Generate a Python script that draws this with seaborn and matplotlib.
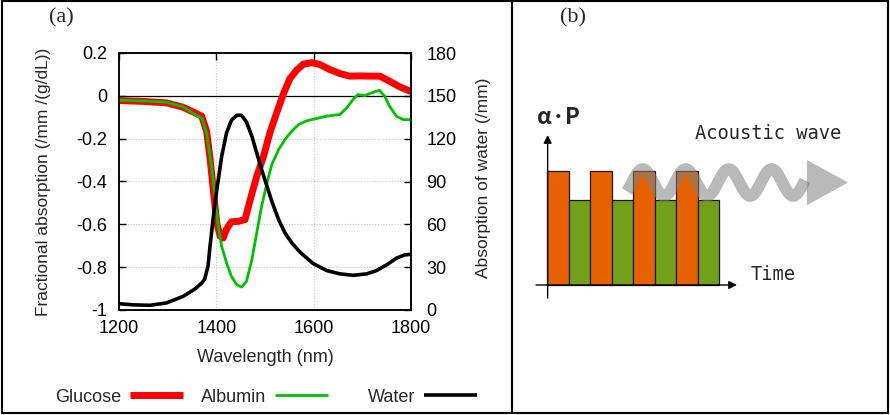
import numpy as np
import pandas as pd
import matplotlib
matplotlib.use("Agg")
import matplotlib.pyplot as plt
from matplotlib.lines import Line2D
from matplotlib.patches import Polygon
import seaborn as sns

# ---------------- data (panel a) ----------------
glucose_nm = [1200, 1250, 1298, 1330, 1356, 1370, 1380, 1387, 1394, 1401, 1408, 1414,
              1421, 1431, 1445, 1459, 1469, 1483, 1497, 1510, 1524, 1538, 1551, 1565,
              1579, 1596, 1613, 1633, 1654, 1674, 1695, 1715, 1736, 1756, 1777, 1800]
glucose_val = [-0.022, -0.026, -0.033, -0.052, -0.079, -0.095, -0.165, -0.29, -0.445,
               -0.595, -0.656, -0.664, -0.622, -0.588, -0.586, -0.578, -0.49, -0.376,
               -0.282, -0.173, -0.079, 0.01, 0.08, 0.12, 0.148, 0.155, 0.146, 0.123,
               0.104, 0.092, 0.093, 0.092, 0.092, 0.068, 0.042, 0.02]

albumin_nm = [1200, 1250, 1298, 1330, 1356, 1370, 1380, 1390, 1397, 1404, 1411, 1421,
              1431, 1442, 1452, 1462, 1473, 1483, 1493, 1504, 1514, 1528, 1541, 1555,
              1569, 1585, 1606, 1627, 1654, 1668, 1681, 1691, 1705, 1719, 1735, 1746,
              1756, 1770, 1784, 1800]
albumin_val = [-0.02, -0.024, -0.03, -0.05, -0.087, -0.103, -0.173, -0.329, -0.469,
               -0.609, -0.703, -0.78, -0.843, -0.882, -0.893, -0.866, -0.765, -0.64,
               -0.516, -0.407, -0.321, -0.251, -0.204, -0.165, -0.134, -0.117, -0.106,
               -0.095, -0.087, -0.056, -0.017, 0.006, 0.001, 0.014, 0.026, -0.002,
               -0.049, -0.095, -0.111, -0.111]

water_nm = [1200, 1230, 1264, 1298, 1332, 1356, 1370, 1376, 1383, 1387, 1394, 1401,
            1411, 1421, 1431, 1442, 1452, 1462, 1473, 1483, 1493, 1504, 1514, 1528,
            1541, 1555, 1572, 1599, 1627, 1654, 1681, 1709, 1729, 1750, 1770, 1787, 1800]
water_val = [4.4, 3.6, 3.3, 5.0, 9.6, 14.7, 18.9, 21.5, 31.0, 44.6, 65.6, 84.3, 107.7,
             124.1, 132.9, 136.4, 136.3, 131.6, 121.7, 110.0, 98.4, 86.7, 76.1, 63.3,
             54.0, 47.0, 40.5, 32.5, 27.6, 25.3, 24.3, 25.3, 27.6, 31.6, 36.3, 38.6, 39.0]

left_ticks = [0.2, 0, -0.2, -0.4, -0.6, -0.8, -1]
left_tick_labels = ["0.2", "0", "-0.2", "-0.4", "-0.6", "-0.8", "-1"]
right_ticks = [0, 30, 60, 90, 120, 150, 180]
x_ticks = [1200, 1400, 1600, 1800]

# ---------------- data (panel b) ----------------
pulse_kind = ["glucose", "albumin"] * 4
pulse_level = [1.0, 0.746] * 4
wave_center = 0.899
wave_amp = 0.118
wave_period = 2.0
wave_peak = 4.45
wave_start, wave_end = 3.72, 12.0

# ---------------- style ----------------
sns.set_theme(style="white")
plt.rcParams["font.family"] = ["Liberation Sans", "DejaVu Sans"]
plt.rcParams["axes.unicode_minus"] = False

W, H = 890, 415
fig = plt.figure(figsize=(W / 100, H / 100), dpi=100)

def fx(px):
    return px / W

def fy(py):
    return 1 - py / H

FS = 13

# ---------------- panel (a) ----------------
ax = fig.add_axes([fx(119), fy(310), fx(411) - fx(119), fy(53) - fy(310)])
df_g = pd.DataFrame({"nm": glucose_nm, "v": glucose_val})
df_a = pd.DataFrame({"nm": albumin_nm, "v": albumin_val})
df_w = pd.DataFrame({"nm": water_nm, "v": water_val})

ax.axhline(0, color="black", lw=0.9, zorder=1)
ax.grid(True, color="#c4c4c4", linestyle=(0, (1, 1.5)), lw=0.8)
sns.lineplot(data=df_a, x="nm", y="v", ax=ax, color="#00c000", lw=2.0, zorder=3)
sns.lineplot(data=df_g, x="nm", y="v", ax=ax, color="#ff0000", lw=5.0, zorder=2,
             solid_capstyle="butt")

ax.set_xlim(1200, 1800)
ax.set_ylim(-1, 0.2)
ax.set_xticks(x_ticks)
ax.set_yticks(left_ticks)
ax.set_yticklabels(left_tick_labels)
ax.tick_params(axis="both", direction="in", length=5, width=1, colors="black",
               labelsize=FS, top=True, right=False)
ax.tick_params(axis="y", pad=8.5)
ax.tick_params(axis="x", pad=7)
ax.set_xlabel("Wavelength (nm)", fontsize=FS)
ax.set_ylabel("Fractional absorption (/mm /(g/dL))", fontsize=12.5)
ax.xaxis.set_label_coords(0.5, -0.152)
ax.yaxis.set_label_coords(-0.233, 0.497)
for s in ax.spines.values():
    s.set_color("black")
    s.set_linewidth(1.1)

ax2 = ax.twinx()
sns.lineplot(data=df_w, x="nm", y="v", ax=ax2, color="black", lw=2.6)
ax2.set_ylim(0, 180)
ax2.set_yticks(right_ticks)
ax2.tick_params(axis="y", direction="in", length=5, width=1, colors="black",
                labelsize=FS, pad=11)
ax2.set_ylabel("Absorption of water (/mm)", fontsize=12.5)
ax2.yaxis.set_label_coords(1.223, 0.513)
ax2.grid(False)
for s in ax2.spines.values():
    s.set_color("black")
    s.set_linewidth(1.1)
ax2.set_xlim(1200, 1800)

# legend: text before line, three separate entries
legend_specs = [("Glucose", "#ff0000", 5.0, 183), ("Albumin", "#00c000", 2.0, 328),
                ("Water", "black", 2.6, 477)]
for name, col, lw, xr in legend_specs:
    h = Line2D([], [], color=col, lw=lw, solid_capstyle="butt")
    fig.legend([h], [name], loc="center right", bbox_to_anchor=(fx(xr), fy(397)),
               frameon=False, markerfirst=False, fontsize=FS, handlelength=2.93,
               handletextpad=0.5, borderpad=0, borderaxespad=0)

fig.text(fx(61.5), fy(18), "(a)", family=["Liberation Serif"], fontsize=16,
         ha="center", va="center")
fig.text(fx(573), fy(18), "(b)", family=["Liberation Serif"], fontsize=16,
         ha="center", va="center")

# ---------------- panel (b) ----------------
bx = fig.add_axes([fx(512), fy(415), fx(890) - fx(512), fy(0) - fy(415)])
bx.set_xlim(-35 / 21.5, 343 / 21.5)
bx.set_ylim(-130 / 114, 285 / 114)
bx.axis("off")
colors_b = {"glucose": "#e86100", "albumin": "#72a01a"}
xs = np.arange(len(pulse_level)) + 0.5
bx.bar(xs, pulse_level, width=1.0, color=[colors_b[k] for k in pulse_kind],
       edgecolor="#1a1a1a", linewidth=0.9, zorder=2)

# axes arrows
bx.annotate("", xy=(8.84, 0), xytext=(-0.51, 0),
            arrowprops=dict(arrowstyle="-|>", color="black", lw=1.0,
                            mutation_scale=12, shrinkA=0, shrinkB=0), zorder=3)
bx.annotate("", xy=(0.03, 1.316), xytext=(0.03, -0.114),
            arrowprops=dict(arrowstyle="-|>", color="black", lw=1.0,
                            mutation_scale=12, shrinkA=0, shrinkB=0), zorder=3)

# acoustic wave
u = np.linspace(wave_start, wave_end, 300)
wv = wave_center + wave_amp * np.cos(2 * np.pi * (u - wave_peak) / wave_period)
bx.plot(u, wv, color="#808080", alpha=0.55, lw=8.5, solid_capstyle="butt", zorder=4)
head = Polygon([[12.09, 1.096], [14.0, wave_center], [12.09, 0.70]], closed=True,
               facecolor="#808080", alpha=0.55, edgecolor="none", zorder=4)
bx.add_patch(head)

bx.text(-0.45, 1.465, "α·P", fontsize=16, fontweight="bold",
        family=["Noto Sans CJK JP", "DejaVu Sans"], ha="left", va="center")
bx.text(6.9, 1.33, "Acoustic wave", fontsize=13.5,
        family=["DejaVu Sans Mono"], ha="left", va="center")
bx.text(9.45, 0.09, "Time", fontsize=13.5,
        family=["DejaVu Sans Mono"], ha="left", va="center")

# frame lines
for seg in ([(fx(2), fx(2)), (fy(1), fy(413))], [(fx(888), fx(888)), (fy(1), fy(413))],
            [(fx(2), fx(888)), (fy(1), fy(1))], [(fx(2), fx(888)), (fy(413), fy(413))],
            [(fx(512), fx(512)), (fy(1), fy(413))]):
    fig.add_artist(Line2D(seg[0], seg[1], color="black", lw=1.5))

fig.savefig("out.png", dpi=100)
